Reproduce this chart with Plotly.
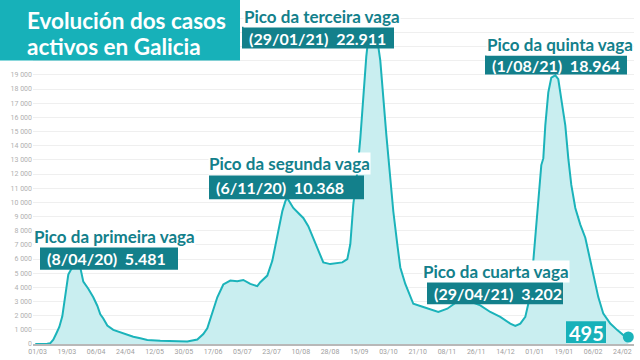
import plotly.graph_objects as go
import pandas as pd

# ---- data ----
dates = [
    "2020-02-28", "2020-03-06", "2020-03-11", "2020-03-14", "2020-03-17", "2020-03-20",
    "2020-03-23", "2020-03-26", "2020-03-29", "2020-04-01", "2020-04-04", "2020-04-08",
    "2020-04-13", "2020-04-16", "2020-04-21", "2020-04-26", "2020-04-30", "2020-05-03",
    "2020-05-06", "2020-05-10", "2020-05-16", "2020-05-26", "2020-06-05", "2020-06-12",
    "2020-06-19", "2020-07-02", "2020-07-19", "2020-07-29", "2020-08-08", "2020-08-14",
    "2020-08-18", "2020-08-21", "2020-08-24", "2020-08-28", "2020-09-03", "2020-09-10",
    "2020-09-17", "2020-09-23", "2020-09-30", "2020-10-07", "2020-10-10", "2020-10-17",
    "2020-10-22", "2020-10-27", "2020-11-01", "2020-11-04", "2020-11-06", "2020-11-07",
    "2020-11-12", "2020-11-17", "2020-11-22", "2020-11-27", "2020-12-02", "2020-12-07",
    "2020-12-12", "2020-12-19", "2020-12-26", "2020-12-31", "2021-01-05", "2021-01-08",
    "2021-01-11", "2021-01-15", "2021-01-18", "2021-01-21", "2021-01-24", "2021-01-27",
    "2021-01-29", "2021-02-01", "2021-02-04", "2021-02-07", "2021-02-10", "2021-02-13",
    "2021-02-17", "2021-02-20", "2021-02-24", "2021-02-27", "2021-03-04", "2021-03-09",
    "2021-03-12", "2021-03-22", "2021-04-01", "2021-04-06", "2021-04-15", "2021-04-20",
    "2021-04-29", "2021-05-08", "2021-05-18", "2021-05-28", "2021-06-07", "2021-06-17",
    "2021-06-22", "2021-06-27", "2021-07-02", "2021-07-05", "2021-07-07", "2021-07-10",
    "2021-07-12", "2021-07-15", "2021-07-18", "2021-07-20", "2021-07-22", "2021-07-25",
    "2021-07-28", "2021-08-01", "2021-08-04", "2021-08-07", "2021-08-11", "2021-08-14",
    "2021-08-17", "2021-08-21", "2021-08-26", "2021-08-31", "2021-09-03", "2021-09-08",
    "2021-09-13", "2021-09-18", "2021-09-25", "2021-10-02", "2021-10-08", "2021-10-13",
]
active_cases = [
    0, 0, 20, 60, 300, 740,
    1200, 1950, 3300, 4900, 5300, 5481,
    5400, 4400, 3900, 3300, 2700, 2100,
    1800, 1300, 1000, 740, 510, 400,
    280, 230, 230, 180, 320, 700,
    1100, 1800, 2500, 3300, 4200, 4480,
    4430, 4520, 4240, 4080, 4360, 4830,
    5870, 7500, 9370, 10070, 10368, 10180,
    9600, 9250, 8900, 8320, 7500, 6570,
    5760, 5640, 5690, 5760, 5990, 7040,
    9830, 12170, 14500, 17300, 20300, 22200,
    22911, 22500, 21500, 20000, 17300, 14800,
    11700, 9370, 7030, 5400, 4240, 3310,
    2840, 2610, 2380, 2260, 2490, 2730,
    3202, 3000, 2730, 2260, 1910, 1440,
    1280, 1440, 1910, 2840, 3780, 5870,
    7500, 9600, 12630, 13100, 15430, 17760,
    18810, 18964, 18690, 17290, 15430, 13100,
    11230, 9600, 8430, 7500, 6570, 4940,
    3310, 2140, 1440, 980, 630, 495,
]
x_tick_labels = [
    "01/03", "19/03", "06/04", "24/04", "12/05", "30/05", "17/06", "05/07", "23/07",
    "10/08", "28/08", "15/09", "03/10", "21/10", "08/11", "26/11", "14/12", "01/01",
    "19/01", "06/02", "24/02",
]
y_tick_values = [0, 1000, 2000, 3000, 4000, 5000, 6000, 7000, 8000, 9000, 10000,
                 11000, 12000, 13000, 14000, 15000, 16000, 17000, 18000, 19000]
peak_titles = ["Pico da primeira vaga", "Pico da segunda vaga", "Pico da terceira vaga",
               "Pico da cuarta vaga", "Pico da quinta vaga"]
peak_dates = ["8/04/20", "6/11/20", "29/01/21", "29/04/21", "1/08/21"]
peak_values = ["5.481", "10.368", "22.911", "3.202", "18.964"]
title_lines = ["Evolución dos casos", "activos en Galicia"]
last_value_label = "495"

# ---- styling ----
W, H = 640, 360
ML, MR, MT, MB = 33, 6, 4, 13
PW, PH = W - ML - MR, H - MT - MB
LINE = "#1bb3ba"
FILL = "#c9eef0"
DARK = "#13808b"
TITLE_BG = "#17b1b9"
GRID = "#efefef"
FONT = "Lato"


def px(x):
    return (x - ML) / PW


def py(y):
    return 1 - (y - MT) / PH


start = pd.Timestamp("2020-03-01")
tick_vals = [start + pd.Timedelta(days=0.3 + 29.24 * i) for i in range(len(x_tick_labels))]
x_range = [start + pd.Timedelta(days=-4.3), start + pd.Timedelta(days=-4.3 + PW)]

fig = go.Figure()
fig.add_trace(go.Scatter(
    x=dates, y=active_cases, mode="lines", fill="tozeroy",
    line=dict(color=LINE, width=2), fillcolor=FILL, hoverinfo="skip",
))
fig.add_trace(go.Scatter(
    x=[dates[-1]], y=[active_cases[-1]], mode="markers",
    marker=dict(color=LINE, size=11), cliponaxis=False, hoverinfo="skip",
))

shapes = []
annotations = []

# title box
shapes.append(dict(type="rect", xref="paper", yref="paper", x0=px(0), x1=px(240),
                   y0=py(61), y1=py(0), fillcolor=TITLE_BG, line=dict(width=0), layer="above"))
for line_text, cy in zip(title_lines, [21, 47]):
    annotations.append(dict(xref="paper", yref="paper", x=px(25), y=py(cy), xanchor="left",
                            yanchor="middle", text=line_text, showarrow=False,
                            font=dict(family=FONT, size=22.5, color="white", weight="bold")))

# peak labels: (title left, title center y, box x0, x1, y0, y1)
label_pos = [
    (33, 239, 40, 178, 249, 272),
    (208, 165, 209, 364, 177, 201),
    (243, 17, 242, 394, 27, 49),
    (422, 274, 427, 563, 284, 307),
    (486, 45, 485, 627, 56, 75),
]
for (tl, ty, bx0, bx1, by0, by1), t, d, v in zip(label_pos, peak_titles, peak_dates, peak_values):
    annotations.append(dict(xref="paper", yref="paper", x=px(tl), y=py(ty), xanchor="left",
                            yanchor="middle", text=t, showarrow=False, bgcolor="white",
                            borderpad=0,
                            font=dict(family=FONT, size=17, color=DARK, weight="bold")))
    shapes.append(dict(type="rect", xref="paper", yref="paper", x0=px(bx0), x1=px(bx1),
                       y0=py(by1), y1=py(by0), fillcolor=DARK, line=dict(width=0), layer="above"))
    annotations.append(dict(xref="paper", yref="paper", x=px(bx0 + 5), y=py((by0 + by1) / 2 + 0.5),
                            xanchor="left", yanchor="middle",
                            text="(" + d + ")\u00a0\u00a0" + v, showarrow=False,
                            font=dict(family=FONT, size=16, color="white", weight="bold")))

# last value box
shapes.append(dict(type="rect", xref="paper", yref="paper", x0=px(566), x1=px(606),
                   y0=py(346), y1=py(324), fillcolor=TITLE_BG, line=dict(width=0), layer="above"))
annotations.append(dict(xref="paper", yref="paper", x=px(586), y=py(335.5), xanchor="center",
                        yanchor="middle", text=last_value_label, showarrow=False,
                        font=dict(family=FONT, size=20, color="white", weight="bold")))

fig.update_layout(
    width=W, height=H, margin=dict(l=ML, r=MR, t=MT, b=MB),
    plot_bgcolor="white", paper_bgcolor="white", showlegend=False,
    separators=", ",
    shapes=shapes, annotations=annotations,
    xaxis=dict(type="date", range=x_range, tickvals=tick_vals, ticktext=x_tick_labels,
               showgrid=False, showline=True, linecolor="#b8b8b8", linewidth=2,
               ticks="", tickfont=dict(family="Roboto", size=7, color="#a0a0a0"),
               zeroline=False, fixedrange=True),
    yaxis=dict(range=[0, 24000], tickmode="array", tickvals=y_tick_values, tickformat=",d",
               showgrid=True, gridcolor=GRID, gridwidth=1, zeroline=False, showline=False,
               ticks="", tickfont=dict(family="Roboto", size=7, color="#b0b0b0"),
               minor=dict(tickmode="linear", tick0=0, dtick=1000, showgrid=True,
                          gridcolor=GRID, gridwidth=1, ticks=""),
               fixedrange=True),
)

fig.write_html("out.html", post_script="document.body.style.margin='0';",
               config={"displayModeBar": False})
